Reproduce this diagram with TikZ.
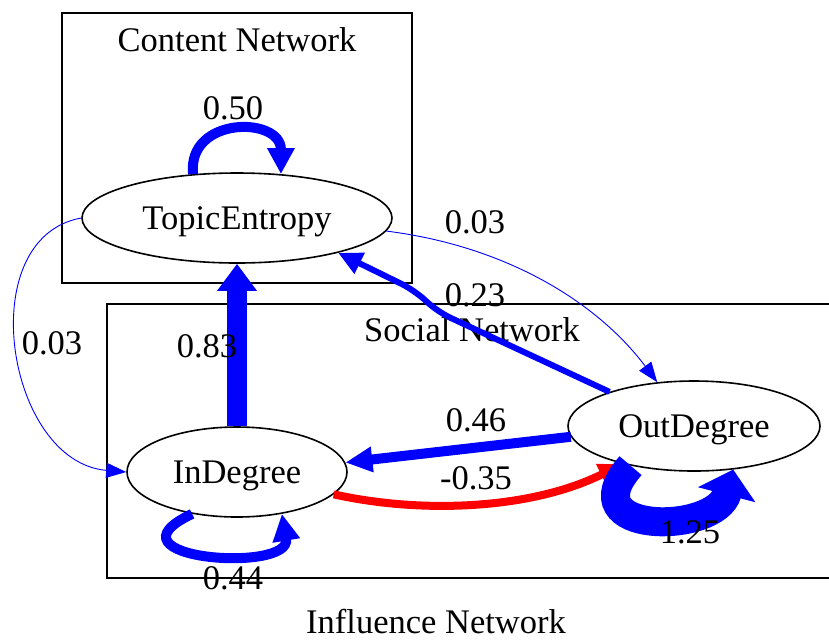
\documentclass[tikz,border=0pt]{standalone}
\usepackage{fontspec}
\setmainfont{Liberation Serif}
\usetikzlibrary{shapes.geometric,arrows.meta,calc}
\begin{document}
\begin{tikzpicture}[x=1pt,y=-1pt,
  every node/.style={font=\fontsize{34.5}{40}\selectfont},
  gvnode/.style={ellipse,draw,line width=1.6pt,inner sep=0pt,minimum height=90pt,text depth=0pt},
  cluster/.style={draw,line width=1.8pt},
  lbl/.style={inner sep=0pt}
]
\useasboundingbox (0,0) rectangle (829,641);
% clusters
\draw[cluster] (62,13) rectangle (412,283);
\draw[cluster] (830,304) -- (107,304) -- (107,578) -- (830,578);
\node[lbl] (cn) at (237,40) {Content Network};
\node[lbl] (sn) at (472,330) {Social Network};
\node[lbl] (inf) at (436,622) {Influence Network};
% nodes
\node[gvnode,minimum width=310pt] (TE) at (237,218) {TopicEntropy};
\node[gvnode,minimum width=220pt] (ID) at (237,472) {InDegree};
\node[gvnode,minimum width=252pt] (OD) at (694,426) {OutDegree};
% edges
\draw[blue,line width=10pt,-{Triangle[length=26pt,width=26pt]}]
  (TE.135.6) .. controls ($(TE.135.6)+(-6,-58)$) and ($(TE.45)+(0,-58)$) .. (TE.45);
\draw[blue,line width=20pt,-{Triangle[length=27pt,width=38pt]}]
  (ID.north) -- (TE.south);
\draw[blue,line width=6pt,rounded corners=14pt,-{Triangle[length=24pt,width=22pt]}]
  (OD.158.9) -- (438,312) -- (414,290) -- (TE.-19.7);
\draw[blue,line width=0.9pt,-{Triangle[length=20pt,width=15pt]}]
  (TE.-5.7) .. controls ($(TE.-5.7)+(120,15)$) and ($(OD.130.8)+(-60,-80)$) .. (OD.130.8);
\draw[blue,line width=0.9pt,-{Triangle[length=20pt,width=15pt]}]
  (TE.180) .. controls ($(TE.180)+(-110,20)$) and ($(ID.180)+(-120,-10)$) .. (ID.180);
\draw[blue,line width=10pt,-{Triangle[length=27pt,width=24pt]}]
  (OD.185) -- (ID.5.3);
\draw[red,line width=8pt,-{Triangle[length=24pt,width=22pt]}]
  (ID.-13.5) .. controls ($(ID.-13.5)+(90,20)$) and ($(OD.208)+(-90,45)$) .. (OD.208);
\draw[blue,line width=10pt,-{Triangle[length=27pt,width=26pt]}]
  (ID.-137.6) .. controls ($(ID.-137.6)+(-95,45)$) and ($(ID.-43.6)+(10,60)$) .. (ID.-43.6);
\draw[blue,line width=29pt,-{Triangle[length=26pt,width=58pt]}]
  (OD.-148) .. controls ($(OD.-148)+(-62,70)$) and ($(OD.-48.4)+(-17,65)$) .. (OD.-48.4);
% edge labels
\node[lbl] (l1) at (233,108) {0.50};
\node[lbl] (l2) at (475,222) {0.03};
\node[lbl] (l3) at (475,295) {0.23};
\node[lbl] (l4) at (52,343) {0.03};
\node[lbl] (l5) at (207,346) {0.83};
\node[lbl] (l6) at (476,420) {0.46};
\node[lbl] (l7) at (476,478) {-0.35};
\node[lbl] (l8) at (233,578) {0.44};
\node[lbl] (l9) at (690,532) {1.25};
\end{tikzpicture}
\end{document}
